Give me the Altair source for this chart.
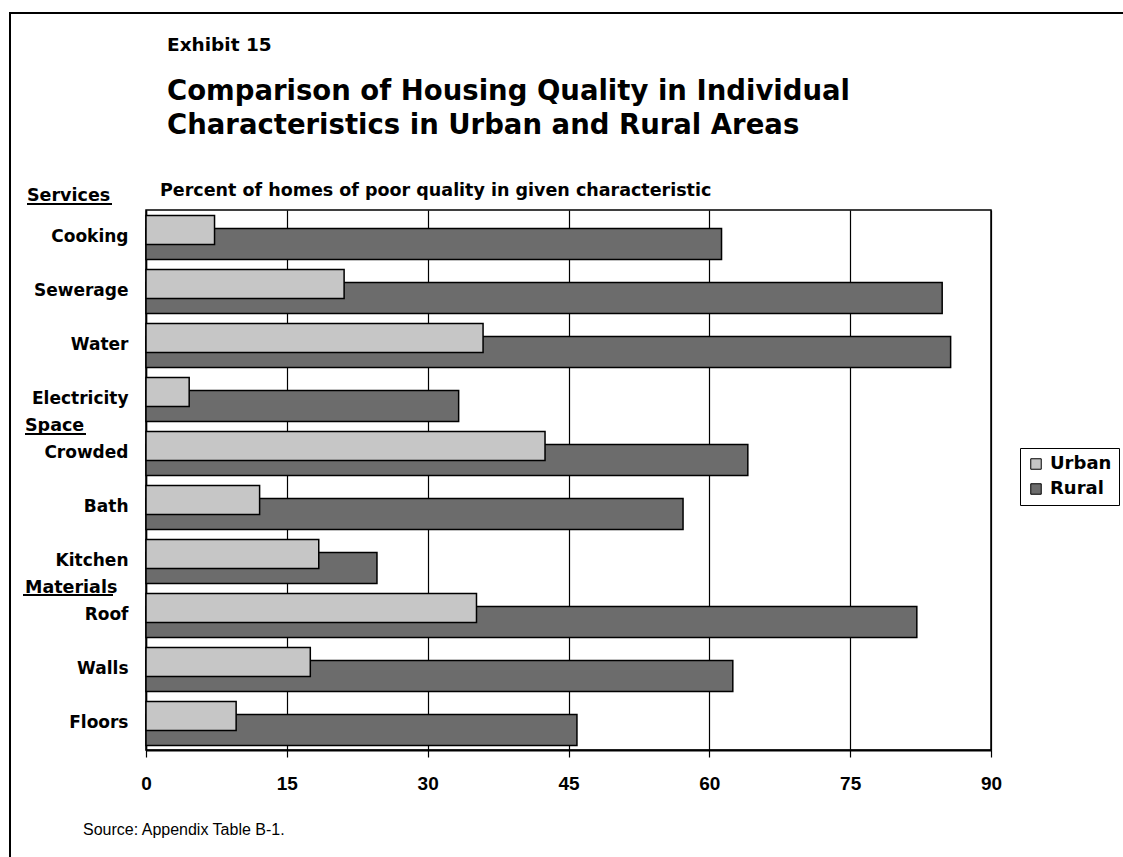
import altair as alt
import pandas as pd

# ---- data ----
categories = ["Cooking", "Sewerage", "Water", "Electricity", "Crowded",
              "Bath", "Kitchen", "Roof", "Walls", "Floors"]
urban = [7.3, 21.1, 35.9, 4.6, 42.5, 12.1, 18.4, 35.2, 17.5, 9.6]
rural = [61.3, 84.8, 85.7, 33.3, 64.1, 57.2, 24.6, 82.1, 62.5, 45.9]
series = ["Urban", "Rural"]
x_ticks = [0, 15, 30, 45, 60, 75, 90]
groups = ["Services", "Space", "Materials"]
group_first = ["Cooking", "Crowded", "Roof"]

W, H = 845, 540
LEFT, TOP = 146, 210
TFONT = "DejaVu Sans"
AFONT = "Liberation Sans"

df = pd.DataFrame({
    "cat": categories * 2,
    "series": ["Urban"] * len(categories) + ["Rural"] * len(categories),
    "value": urban + rural,
})

yenc = alt.Y("cat:N", sort=categories, scale=alt.Scale(domain=categories, paddingInner=0, paddingOuter=0),
             axis=alt.Axis(title=None, ticks=False, labelFont=TFONT, labelFontSize=17, labelFontWeight="bold",
                           labelColor="black", labelPadding=18, domainColor="black", domainWidth=1.5))
xenc = alt.X("value:Q", scale=alt.Scale(domain=[0, 90], nice=False),
             axis=alt.Axis(title=None, values=x_ticks, labelFont=AFONT, labelFontSize=19, labelFontWeight="bold",
                           labelColor="black", labelPadding=17, labelFlush=False, tickSize=7, tickColor="black",
                           tickWidth=1.2, domainColor="black", domainWidth=2, gridColor="black", gridWidth=1.2,
                           gridOpacity=1))
color = alt.Color("series:N", scale=alt.Scale(domain=series, range=["#c6c6c6", "#6c6c6c"]),
                  legend=alt.Legend(title=None, orient="none", legendX=874, legendY=238,
                                    strokeColor="black", padding=7, fillColor="white",
                                    symbolType="square", symbolSize=110, symbolStrokeColor="black",
                                    symbolStrokeWidth=1, labelFont=TFONT, labelFontSize=18,
                                    labelFontWeight="bold", labelColor="black", rowPadding=7,
                                    symbolOffset=0, labelOffset=5))

rural_bars = alt.Chart(df).transform_filter(alt.datum.series == "Rural").mark_bar(
    height=31, yOffset=7, stroke="black", strokeWidth=1.5).encode(y=yenc, x=xenc, color=color)
urban_bars = alt.Chart(df).transform_filter(alt.datum.series == "Urban").mark_bar(
    height=29, yOffset=-7, stroke="black", strokeWidth=1.5).encode(y=yenc, x=xenc, color=color)


def text(txt, x, y, size, font=TFONT, weight="bold"):
    return alt.Chart(pd.DataFrame({"t": [txt]})).mark_text(
        align="left", baseline="alphabetic", font=font, fontSize=size, fontWeight=weight, color="black"
    ).encode(x=alt.value(x), y=alt.value(y), text="t:N")


def uline(x0, x1, y):
    return alt.Chart(pd.DataFrame({"t": [0]})).mark_rule(color="black", strokeWidth=2).encode(
        x=alt.value(x0), x2=alt.value(x1), y=alt.value(y))


gdf = pd.DataFrame({"g": groups, "cat": group_first})
ysc = alt.Y("cat:N", sort=categories, bandPosition=0)
group_services = alt.Chart(gdf.iloc[[0]]).mark_text(
    align="left", baseline="alphabetic", font=TFONT, fontSize=17.5, fontWeight="bold", color="black", dy=-9
).encode(x=alt.value(-119), y=ysc, text="g:N")
group_rest = alt.Chart(gdf.iloc[1:]).mark_text(
    align="left", baseline="alphabetic", font=TFONT, fontSize=17.5, fontWeight="bold", color="black", dy=5
).encode(x=alt.value(-121), y=ysc, text="g:N")

frame = alt.Chart(pd.DataFrame({"t": [0]})).mark_rect(fillOpacity=0, stroke="black", strokeWidth=2).encode(
    x=alt.value(10 - LEFT), x2=alt.value(1123 - LEFT + 20), y=alt.value(13 - TOP), y2=alt.value(857 - TOP + 20))

chart = alt.layer(
    frame,
    rural_bars,
    urban_bars,
    text("Exhibit 15", 21, -159, 18.5),
    text("Comparison of Housing Quality in Individual", 21, -110, 27.5),
    text("Characteristics in Urban and Rural Areas", 21, -76, 27.5),
    text("Percent of homes of poor quality in given characteristic", 14, -14, 17.5),
    group_services,
    group_rest,
    uline(-119, -34, -6),
    uline(-121, -60, 224),
    uline(-123, -33, 385),
    text("Source: Appendix Table B-1.", 83 - LEFT, 835 - TOP, 16, font=AFONT, weight="normal"),
).properties(
    width=W, height=H,
    autosize=alt.AutoSizeParams(type="none"),
    padding={"left": LEFT, "top": TOP, "right": 1123 - LEFT - W, "bottom": 857 - TOP - H},
    background="white",
).configure_view(stroke="black", strokeWidth=1.5)

chart.save("out.html", embed_options={"renderer": "svg", "actions": False})
